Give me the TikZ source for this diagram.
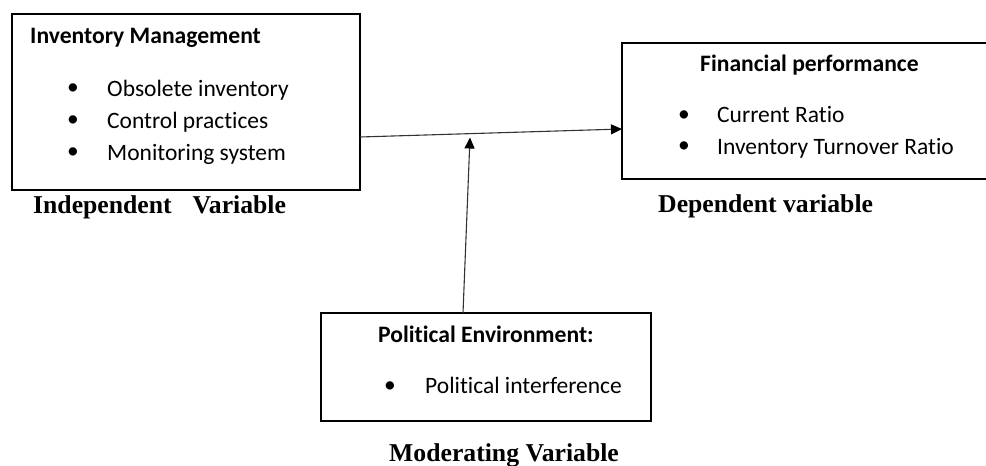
\documentclass[tikz,border=0pt]{standalone}
\usepackage{fontspec}
\setmainfont{Liberation Serif}
\newfontfamily\carl[RawFeature={-liga}]{Carlito}
\usetikzlibrary{arrows.meta}
\begin{document}
\begin{tikzpicture}[x=1pt,y=-1pt,
  box/.style={draw,line width=2pt,inner sep=0pt,outer sep=0pt},
  ttl/.style={font=\carl\bfseries\fontsize{23.6}{28}\selectfont,anchor=base west,inner sep=0pt},
  itm/.style={font=\carl\fontsize{23.5}{28}\selectfont,anchor=base west,inner sep=0pt},
  bul/.style={font=\carl\fontsize{23.5}{28}\selectfont,inner sep=0pt},
  lbl/.style={font=\bfseries\fontsize{25.7}{30}\selectfont,anchor=base west,inner sep=0pt},
  conn/.style={draw=black!80,line width=1.1pt,-{Triangle[length=11pt,width=10pt,color=black]}}]
\useasboundingbox (0,0) rectangle (986,466);
\clip (0,0) rectangle (986,466);
% boxes
\node[box,minimum width=348pt,minimum height=176pt] (inv) at (186,102) {};
\node[box,minimum width=388pt,minimum height=136pt] (fin) at (816,111) {};
\node[box,minimum width=330pt,minimum height=108pt] (pol) at (486,367) {};
% inventory box text
\node[ttl] (invt) at (30,43.5) {Inventory Management};
\node[bul] (b1) at (73,89) {•};
\node[bul] (b2) at (73,121) {•};
\node[bul] (b3) at (73,153) {•};
\node[itm] (i1) at (107,96.7) {Obsolete inventory};
\node[itm] (i2) at (107,128.5) {Control practices};
\node[itm] (i3) at (107,160.5) {Monitoring system};
\node[lbl] (indl) at (33,213.3) {Independent\hspace{21pt}Variable};
% financial box text
\node[ttl] (fint) at (700,71.7) {Financial performance};
\node[bul] (b4) at (684,116) {•};
\node[bul] (b5) at (684,147) {•};
\node[itm] (f1) at (717,122.3) {Current Ratio};
\node[itm] (f2) at (717,154) {Inventory Turnover Ratio};
\node[lbl] (depl) at (658,212.7) {Dependent variable};
% political box text
\node[ttl] (polt) at (378,342.7) {Political Environment:};
\node[bul] (b6) at (390,387.5) {•};
\node[itm] (p1) at (425,393.3) {Political interference};
\node[lbl] (modl) at (389,461.7) {Moderating Variable};
% connectors
\coordinate (hy1) at (0,137);
\coordinate (hy2) at (0,129);
\coordinate (hs) at (inv.east |- hy1);
\coordinate (he) at (fin.west |- hy2);
\coordinate (vs) at (463,313);
\coordinate (ve) at (470,137.5);
\draw[conn] (hs) -- (he);
\draw[conn] (vs) -- (ve);
\end{tikzpicture}
\end{document}
